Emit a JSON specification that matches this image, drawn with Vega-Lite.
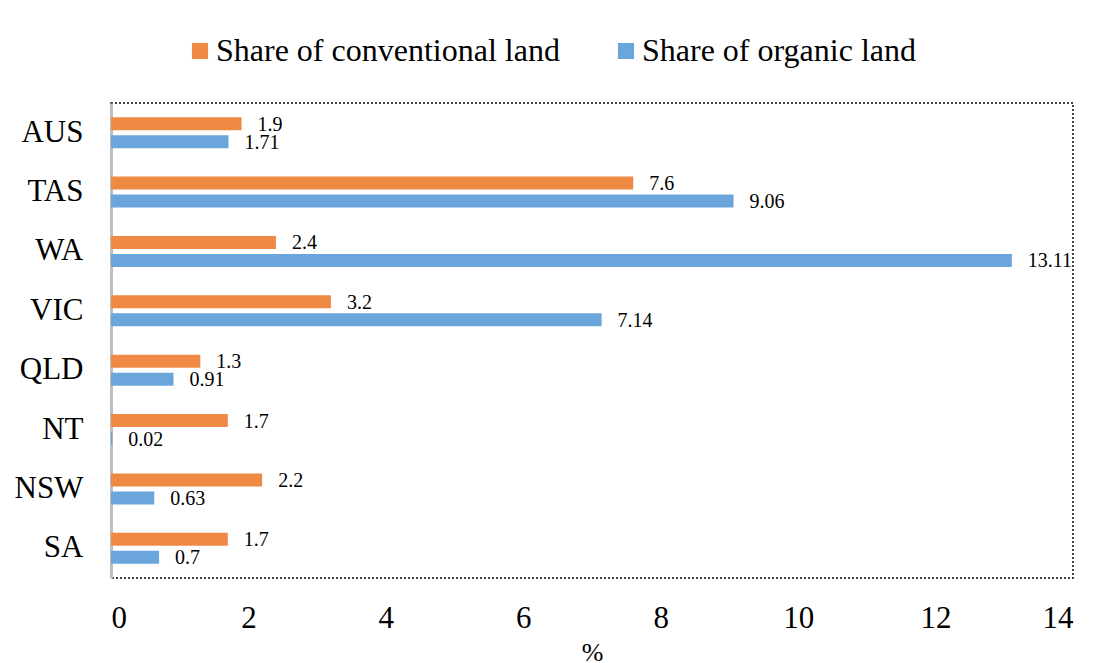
{
  "$schema": "https://vega.github.io/schema/vega-lite/v6.json",
  "autosize": {"type": "none"},
  "padding": {"left": 111, "top": 103, "right": 25, "bottom": 85},
  "width": 962,
  "height": 475,
  "background": "white",
  "data": {
    "values": [
      {"region": "AUS", "series": "Share of conventional land", "value": 1.9},
      {"region": "AUS", "series": "Share of organic land", "value": 1.71},
      {"region": "TAS", "series": "Share of conventional land", "value": 7.6},
      {"region": "TAS", "series": "Share of organic land", "value": 9.06},
      {"region": "WA", "series": "Share of conventional land", "value": 2.4},
      {"region": "WA", "series": "Share of organic land", "value": 13.11},
      {"region": "VIC", "series": "Share of conventional land", "value": 3.2},
      {"region": "VIC", "series": "Share of organic land", "value": 7.14},
      {"region": "QLD", "series": "Share of conventional land", "value": 1.3},
      {"region": "QLD", "series": "Share of organic land", "value": 0.91},
      {"region": "NT", "series": "Share of conventional land", "value": 1.7},
      {"region": "NT", "series": "Share of organic land", "value": 0.02},
      {"region": "NSW", "series": "Share of conventional land", "value": 2.2},
      {"region": "NSW", "series": "Share of organic land", "value": 0.63},
      {"region": "SA", "series": "Share of conventional land", "value": 1.7},
      {"region": "SA", "series": "Share of organic land", "value": 0.7}
    ]
  },
  "encoding": {
    "y": {
      "field": "region",
      "type": "nominal",
      "sort": ["AUS", "TAS", "WA", "VIC", "QLD", "NT", "NSW", "SA"],
      "scale": {"paddingInner": 0.478, "paddingOuter": 0.239},
      "axis": {
        "title": null,
        "ticks": false,
        "labelFontSize": 31,
        "labelColor": "black",
        "labelPadding": 28,
        "domainColor": "#BFBFBF",
        "domainWidth": 3
      }
    },
    "yOffset": {
      "field": "series",
      "type": "nominal",
      "sort": ["Share of conventional land", "Share of organic land"],
      "scale": {"paddingInner": 0.278, "paddingOuter": 0}
    },
    "x": {
      "field": "value",
      "type": "quantitative",
      "scale": {"domain": [0, 14], "nice": false},
      "axis": {
        "title": "%",
        "values": [0, 2, 4, 6, 8, 10, 12, 14],
        "grid": false,
        "domain": false,
        "ticks": false,
        "labelFontSize": 31,
        "labelColor": "black",
        "labelPadding": 25,
        "titleFontSize": 26,
        "titleFontWeight": "normal",
        "titleColor": "black",
        "titlePadding": 6
      }
    }
  },
  "layer": [
    {
      "mark": {"type": "bar"},
      "encoding": {
        "color": {
          "field": "series",
          "type": "nominal",
          "scale": {
            "domain": ["Share of conventional land", "Share of organic land"],
            "range": ["#EF8A45", "#6AA5DC"]
          },
          "legend": {
            "title": null,
            "orient": "none",
            "direction": "horizontal",
            "legendX": 73,
            "legendY": -68,
            "symbolType": "square",
            "symbolSize": 260,
            "symbolStrokeWidth": 0,
            "labelFontSize": 32,
            "labelColor": "black",
            "labelOffset": 0,
            "columnPadding": 50,
            "labelLimit": 600
          }
        }
      }
    },
    {
      "mark": {"type": "text", "align": "left", "baseline": "middle", "dx": 16, "dy": 1, "fontSize": 20, "color": "black"},
      "encoding": {
        "text": {"field": "value", "type": "quantitative"}
      }
    }
  ],
  "config": {
    "font": "Liberation Serif, Times New Roman, serif",
    "axis": {"labelFont": "Liberation Serif, Times New Roman, serif", "titleFont": "Liberation Serif, Times New Roman, serif"},
    "legend": {"labelFont": "Liberation Serif, Times New Roman, serif"},
    "text": {"font": "Liberation Serif, Times New Roman, serif"},
    "view": {"stroke": "black", "strokeDash": [2, 2], "strokeWidth": 1.5}
  }
}
